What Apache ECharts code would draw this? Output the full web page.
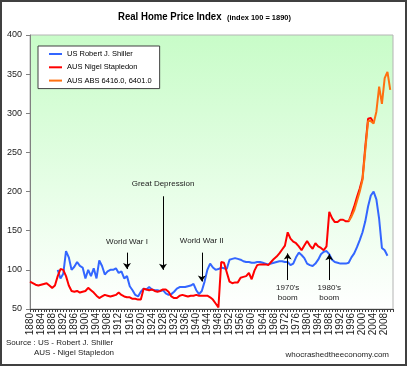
<!DOCTYPE html>
<html><head><meta charset="utf-8">
<script src="https://cdn.jsdelivr.net/npm/echarts@6/dist/echarts.min.js"></script>
<style>html,body{margin:0;padding:0;background:#fff}#c{width:409px;height:368px}</style>
</head><body><div id="c"></div>
<script>
// ---- data ----
const firstYear = 1880, lastYear = 2011;
const years = [];
for (let y = firstYear; y <= lastYear; y++) years.push(String(y));
const xLabelEvery = 4;
const yTicks = [50, 100, 150, 200, 250, 300, 350, 400];

const seriesNames = ['US Robert J. Shiller', 'AUS Nigel Stapledon', 'AUS ABS 6416.0, 6401.0'];

// US Robert J. Shiller, 1890-1919
const usStart = 1890;
const usValues = [
  100, 89, 95, 124, 116, 100, 104, 110, 105, 103,   // 1890-1899
  89, 100, 92, 102, 89, 112, 105, 94, 98, 100,      // 1900-1909
  100, 102, 96, 98, 89, 92, 79, 74, 68, 66          // 1910-1919
];
// US Robert J. Shiller, 1920-2009
const usValues2 = [
  72, 76, 75, 78, 75, 74, 74, 73, 74, 70,           // 1920-1929
  68, 69, 72, 76, 78, 78, 78, 79, 80, 82,           // 1930-1939
  74, 69, 73, 85, 100, 108, 103, 100, 101, 103,     // 1940-1949
  102, 101, 113, 114, 115, 114, 113, 111, 110, 110, // 1950-1959
  109, 109, 110, 110, 109, 108, 107, 108, 109, 110, // 1960-1969
  111, 111, 110, 110, 106, 108, 116, 122, 119, 115, // 1970-1979
  108, 106, 105, 108, 113, 120, 123, 124, 120, 113, // 1980-1989
  110, 109, 108, 108, 108, 109, 116, 121, 129, 138, // 1990-1999
  148, 162, 181, 195, 200, 190, 165, 128, 125, 118  // 2000-2009
];

// AUS Nigel Stapledon, 1880-2004
const ausStart = 1880;
const ausValues = [
  85, 83, 81, 80, 81, 82, 83, 80, 77, 80,           // 1880-1889
  92, 101, 100, 92, 80, 73, 72, 73, 71, 72,         // 1890-1899
  73, 77, 74, 71, 67, 64, 66, 68, 67, 66,           // 1900-1909
  67, 68, 71, 68, 66, 65, 65, 63, 63, 62,           // 1910-1919
  62, 76, 75, 74, 75, 73, 72, 73, 75, 75,           // 1920-1929
  72, 66, 64, 64, 67, 68, 67, 66, 67, 67,           // 1930-1939
  68, 67, 67, 67, 67, 65, 62, 57, 52, 110,          // 1940-1949
  109, 97, 85, 83, 84, 84, 90, 91, 92, 96,          // 1950-1959
  88, 99, 106, 107, 107, 107, 106, 110, 114, 117,   // 1960-1969
  121, 126, 131, 148, 140, 136, 134, 130, 125, 131, // 1970-1979
  137, 131, 127, 134, 130, 128, 125, 130, 174, 166, // 1980-1989
  161, 161, 164, 164, 162, 162, 171, 181, 193, 204, // 1990-1999
  217, 257, 293, 294, 288                           // 2000-2004
];

// AUS ABS 6416.0, 6401.0, 1995-2010
const absStart = 1995;
const absValues = [162, 168, 176, 188, 200, 215, 253, 290, 290, 287, 302, 334, 312, 345, 353, 330];

// annotations: [label, year, textValue, arrowFrom, arrowTo]
const annotations = [
  ['World War I', '1915', 136, 122, 101],
  ['Great Depression', '1928', 210, 194, 100],
  ['World War II', '1942', 137, 122, 85],
  ["1970's\nboom", '1973', 71, 87, 121],
  ["1980's\nboom", '1988', 71, 87, 120]
];

// ---- chart ----
const REG = "'Liberation Sans',Arial,sans-serif";
function pad(start, vals) {
  const out = years.map(() => null);
  vals.forEach((v, i) => { out[start - firstYear + i] = v; });
  return out;
}
const usAll = usValues.concat(usValues2);

const chart = echarts.init(document.getElementById('c'), null, { renderer: 'canvas' });
chart.setOption({
  animation: false,
  legend: {
    orient: 'vertical', left: 38, top: 46,
    data: seriesNames,
    icon: 'rect', itemWidth: 13, itemHeight: 2, itemGap: 3.3,
    padding: [3, 8, 3, 11],
    backgroundColor: '#fff', borderColor: '#404040', borderWidth: 1,
    textStyle: { fontFamily: REG, fontSize: 7.5, lineHeight: 10, color: '#000' },
    selectedMode: false
  },
  grid: {
    left: 30, right: 16, top: 35, bottom: 59, show: true,
    backgroundColor: {
      type: 'linear', x: 0, y: 0, x2: 0, y2: 1,
      colorStops: [
        { offset: 0, color: '#c8fcc8' },
        { offset: 0.55, color: '#e6fee6' },
        { offset: 1, color: '#ffffff' }
      ]
    },
    borderColor: '#b4b4b4', borderWidth: 1
  },
  xAxis: {
    type: 'category', data: years, boundaryGap: false,
    axisLine: { lineStyle: { color: '#404040', width: 1 } },
    axisTick: { show: true, interval: 0, length: 3, lineStyle: { color: '#404040' } },
    axisLabel: { interval: xLabelEvery - 1, rotate: 90, margin: 4, fontSize: 10, fontFamily: REG, color: '#222' },
    splitLine: { show: false }
  },
  yAxis: {
    type: 'value', min: yTicks[0], max: yTicks[yTicks.length - 1], interval: yTicks[1] - yTicks[0],
    axisLine: { show: true, lineStyle: { color: '#808080' } },
    axisTick: { show: true, length: 4, lineStyle: { color: '#808080' } },
    axisLabel: { margin: 8, fontSize: 9, fontFamily: REG, color: '#222' },
    splitLine: { show: false }
  },
  series: [
    {
      name: seriesNames[0], type: 'line', data: pad(usStart, usAll), symbol: 'none',
      lineStyle: { color: '#3366ff', width: 2 }, itemStyle: { color: '#3366ff' },
      markLine: {
        silent: true, symbol: ['none', 'arrow'], symbolSize: 6,
        lineStyle: { color: '#000', width: 1, type: 'solid' },
        label: { show: false },
        data: annotations.map(a => [{ coord: [a[1], a[3]] }, { coord: [a[1], a[4]] }])
      },
      markPoint: {
        silent: true, symbol: 'circle', symbolSize: 1,
        itemStyle: { color: 'rgba(0,0,0,0)' },
        label: { show: true, position: 'inside', color: '#222', fontFamily: REG, fontSize: 8, lineHeight: 9.5,
          formatter: p => p.name },
        data: annotations.map(a => ({ name: a[0], coord: [a[1], a[2]] }))
      }
    },
    {
      name: seriesNames[1], type: 'line', data: pad(ausStart, ausValues), symbol: 'none',
      lineStyle: { color: '#ff0000', width: 2 }, itemStyle: { color: '#ff0000' }
    },
    {
      name: seriesNames[2], type: 'line', data: pad(absStart, absValues), symbol: 'none',
      lineStyle: { color: '#ff7010', width: 2 }, itemStyle: { color: '#ff7010' }
    }
  ],
  graphic: [
    { type: 'rect', silent: true, shape: { x: 1, y: 1, width: 405, height: 364 },
      style: { fill: 'none', stroke: '#404040', lineWidth: 2 } },
    { type: 'text', silent: true, x: 118, y: 17, scaleX: 0.835,
      style: { text: 'Real Home Price Index', fontFamily: REG, fontWeight: 'bold', fontSize: 11.5, fill: '#000', verticalAlign: 'middle' } },
    { type: 'text', silent: true, x: 227, y: 17.5, scaleX: 0.93,
      style: { text: '(index 100 = 1890)', fontFamily: REG, fontWeight: 'bold', fontSize: 8, fill: '#000', verticalAlign: 'middle' } },
    { type: 'text', silent: true, x: 6, y: 343,
      style: { text: 'Source : US - Robert J. Shiller', fontFamily: REG, fontSize: 8, fill: '#222', verticalAlign: 'middle' } },
    { type: 'text', silent: true, x: 34, y: 353,
      style: { text: 'AUS - Nigel Stapledon', fontFamily: REG, fontSize: 8, fill: '#222', verticalAlign: 'middle' } },
    { type: 'text', silent: true, x: 389, y: 355,
      style: { text: 'whocrashedtheeconomy.com', fontFamily: REG, fontSize: 8, fill: '#222', align: 'right', verticalAlign: 'middle' } }
  ]
});
</script>
</body></html>
